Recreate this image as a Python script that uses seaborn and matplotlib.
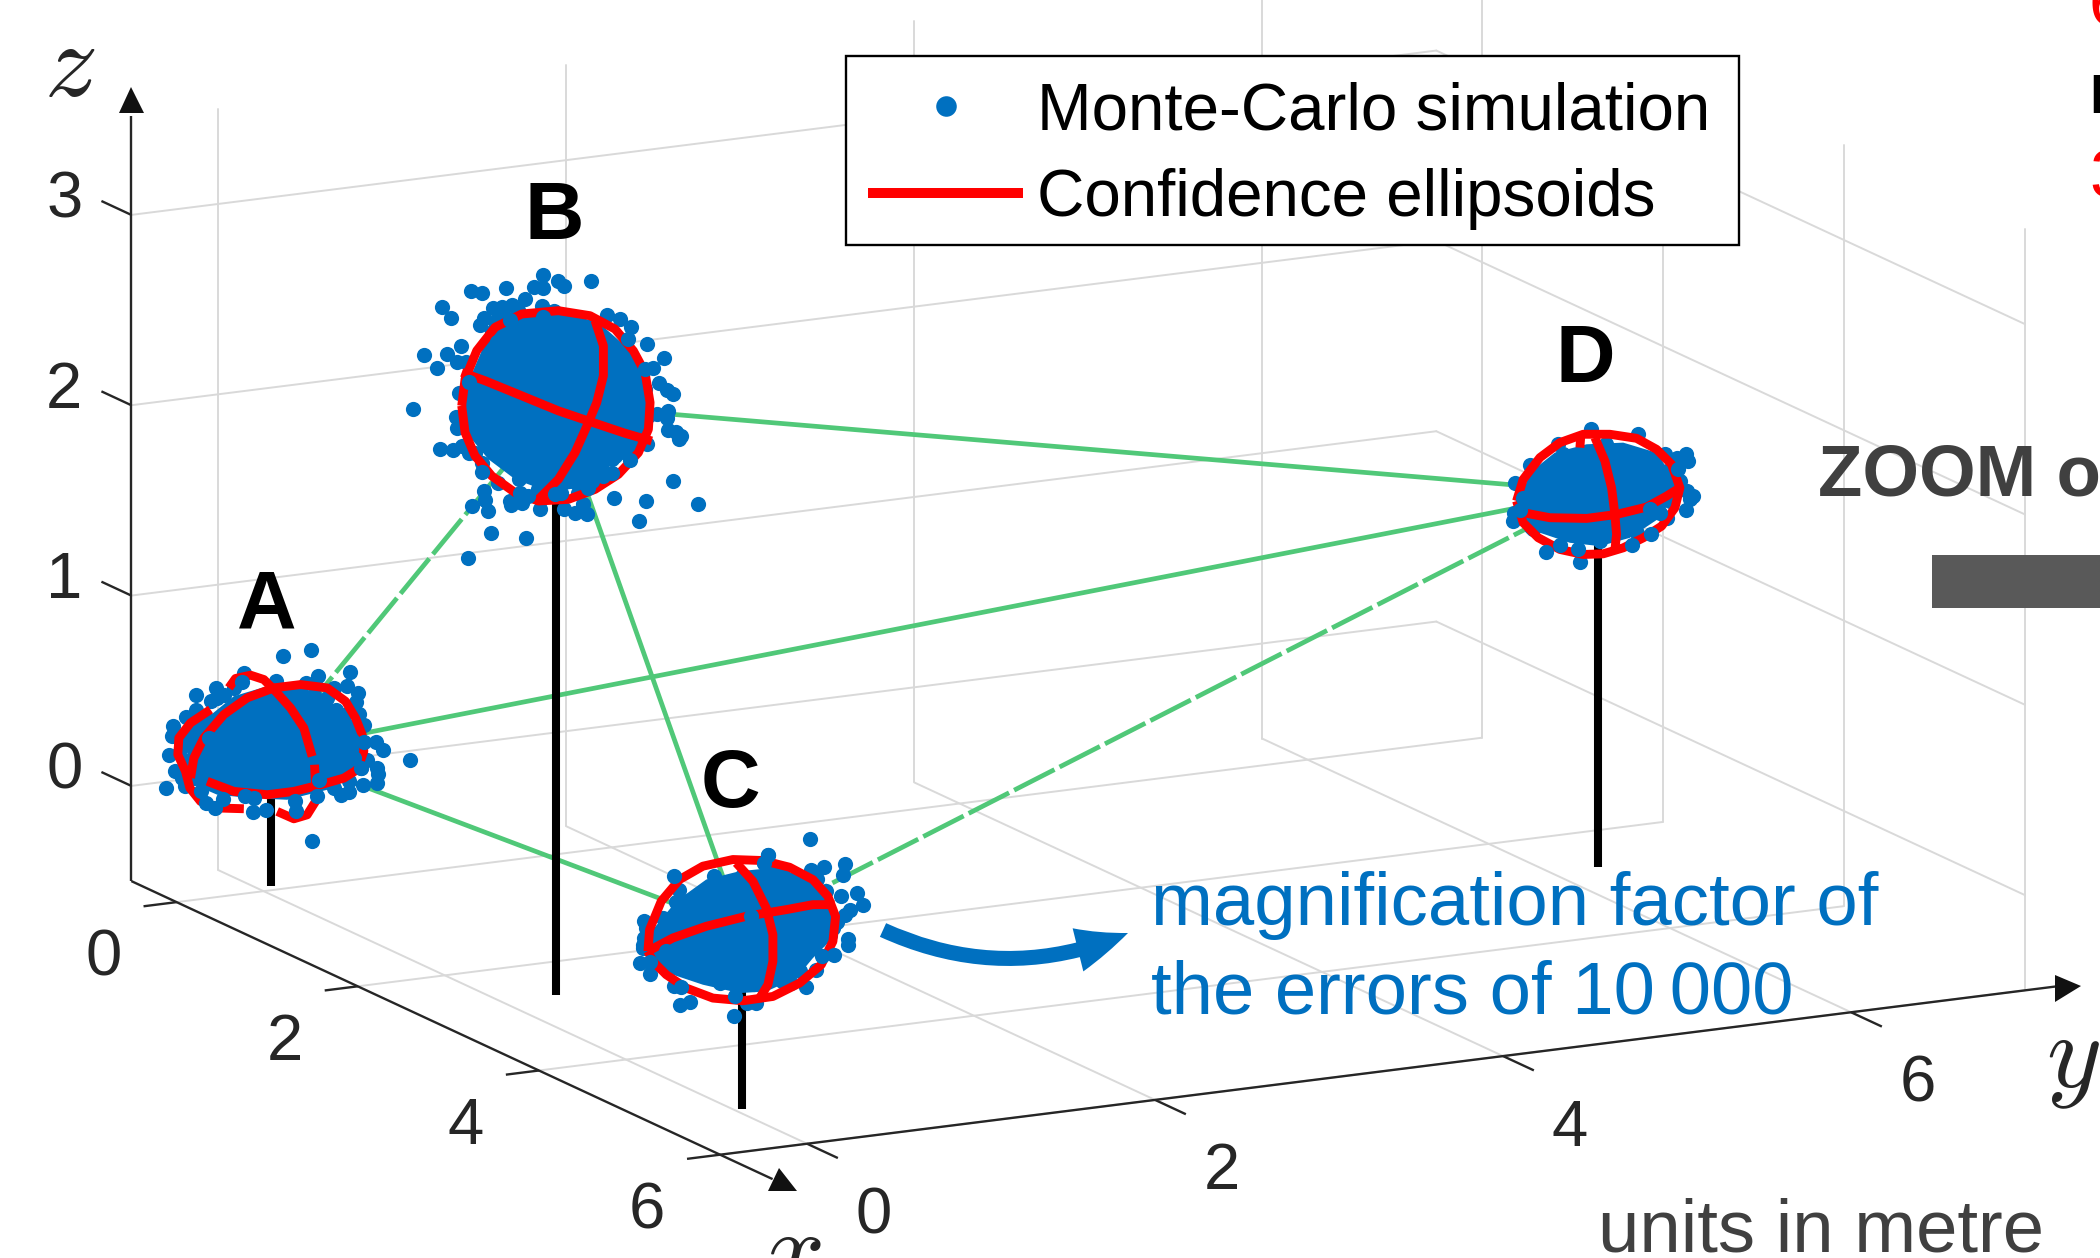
import matplotlib
matplotlib.use('Agg')
import numpy as np
import matplotlib.pyplot as plt
import seaborn as sns
from matplotlib.lines import Line2D
from matplotlib.patches import FancyArrowPatch, Polygon, Rectangle
from mpl_toolkits.mplot3d import proj3d
from mpl_toolkits.mplot3d.art3d import Poly3DCollection

# station positions in metres
names = ['A', 'B', 'C', 'D']
station_x = [-0.07, 2.62, 5.20, 2.69]
station_y = [0.08, 0.315, 0.04, 6.27]
station_z = [0.21, 2.60, 0.445, 1.47]

x_ticks = [0, 2, 4, 6]
y_ticks = [0, 2, 4, 6]
z_ticks = [0, 1, 2, 3]
x_lim = (-0.5, 6)
y_lim = (-0.5, 7)
z_lim = (-0.5, 3.5)

# pairs of stations joined by a green line
solid_links = [(0, 2), (0, 3), (1, 2), (1, 3)]
dashed_links = [(0, 1), (2, 3)]

# magnified errors, picked off the enlarged picture of each station
# (thirds of a pixel, with the station itself at *_centre)
a_centre = (512, 510)
a_dots = [(546,224),(632,206),(653,285),(747,273),(738,315),(773,336),(429,276),(285,340),(347,320),(330,360),
          (285,385),(257,407),(312,405),(216,435),(213,463),(204,520),(224,570),(245,590),(196,620),(253,615),
          (635,778),(787,610),(830,605),(832,578),(828,560),(800,535),(846,506),(826,483),(929,535),(790,432),
          (775,397),(765,362),(705,385),(525,300),(615,305),(700,320),(780,560),(745,600),(350,350),(260,480),(245,470),
          (300,430),(270,450),(240,500),(260,540),(280,590),(700,620),(770,540),(760,440),(730,400),(680,350),
          (640,340),(400,320),(370,340)]
a_top = [(300,630),(315,665),(342,680),(368,653),(432,645),(460,650),(458,692),(495,685),(585,688),(584,660),
         (655,595),(650,645),(720,640),(745,632),(325,470),(425,303),(790,482),(755,475),(760,530),(780,560)]
a_core = [(255,560),(265,480),(320,410),(400,345),(500,315),(610,320),(700,370),(760,420),(785,500),(765,570),
          (700,620),(640,635),(560,655),(450,650),(350,640),(280,610)]
a_curves = [
    [(270,590),(280,530),(310,470),(370,400),(440,350),(520,320),(600,310),(680,320),(735,360),(765,410),(785,460),
     (790,510),(770,565),(730,590),(660,610),(580,630),(500,640),(400,630),(320,600)],
    [(385,320),(405,292),(450,282),(490,295),(525,330)],
    [(525,330),(570,380),(610,440),(635,525)],
    [(642,550),(645,605)],
    [(330,385),(270,425),(235,470),(232,520),(255,570),(268,620),(300,660),(360,680),(430,682)],
    [(530,690),(580,712),(620,700),(645,660)],
]

b_centre = (522, 546)
b_dots = [(484,157),(528,177),(547,190),(628,177),(374,198),(457,193),(484,196),(269,205),(300,211),(431,231),
          (182,255),(207,288),(333,258),(361,255),(390,247),(408,262),(480,250),(517,265),(308,288),(294,307),
          (380,290),(345,300),(675,277),(714,291),(747,315),(797,366),(846,405),(237,370),(197,394),(128,397),
          (226,418),(254,420),(165,436),(832,481),(856,503),(875,513),(232,513),(94,560),(222,583),(226,618),
          (858,565),(855,585),(825,575),(858,622),(882,628),(899,640),(893,648),(797,665),(174,679),(215,683),
          (241,670),(262,690),(692,710),(875,775),(793,836),(949,845),(772,895),(696,826),(306,806),(310,832),
          (271,851),(320,864),(327,931),(433,947),(260,1006),(385,835),(387,848),(421,840),(476,858),(546,860),
          (581,870),(615,875),(603,845),(340,300),(360,290),(330,330),(760,430),(790,500),(800,580),(780,620),
          (660,720),(700,700),(280,690),(300,720),(350,780),(590,810),(470,800)]
b_top = [(300,748),(744,711),(412,770),(438,820),(415,812),(262,480),(483,283),(738,350),(790,440),(814,435),
         (520,815),(537,812),(618,797),(630,775),(690,752),(665,760),(575,775),(345,358),(385,292)]
b_core = [(245,590),(255,490),(300,385),(350,315),(430,280),(540,270),(650,300),(730,370),(790,450),(808,560),
          (795,640),(750,700),(680,730),(620,790),(560,800),(480,800),(400,770),(320,710),(270,650)]
b_curves = [
    [(240,550),(250,470),(285,385),(340,315),(420,275),(530,265),(625,280),(700,320),(755,385),(790,450),(805,540),
     (800,620),(770,690),(710,755),(640,800),(560,830),(470,835),(400,810),(330,760),(280,700),(250,630),(240,550)],
    [(240,450),(310,475),(420,520),(530,565),(625,597),(730,632),(810,655)],
    [(640,295),(665,370),(665,460),(645,540),(620,600),(580,690),(530,770),(470,830)],
]

c_centre = (426, 384)
c_dots = [(632,113),(505,162),(492,185),(427,224),(483,230),(515,212),(548,212),(635,205),(673,197),(737,187),
          (731,222),(652,232),(725,285),(771,275),(790,312),(750,325),(737,340),(712,362),(744,412),(745,430),
          (650,505),(600,510),(618,557),(575,545),(546,540),(463,548),(442,605),(468,605),(402,645),(272,602),
          (241,612),(223,555),(152,518),(120,485),(130,440),(133,410),(133,358),(238,265),(228,302),(294,280),(360,545),
          (170,480),(130,430),(140,380),(190,350),(680,270),(640,250),(700,380),(690,400),(620,440)]
c_top = [(405,585),(243,558),(668,465),(703,462),(455,345),(200,450),(343,225),(494,185),(505,162),(222,224),(152,483)]
c_core = [(150,470),(160,385),(230,300),(320,235),(420,210),(520,200),(620,225),(700,290),(720,360),(690,420),
          (640,470),(590,530),(500,570),(420,575),(310,550),(220,520)]
c_curves = [
    [(145,450),(150,385),(185,300),(240,235),(310,195),(400,175),(490,178),(570,198),(640,235),(685,285),(708,345),
     (700,420),(665,490),(600,545),(520,585),(430,598),(340,590),(260,560),(200,520),(160,480),(145,450)],
    [(145,450),(220,410),(320,375),(440,345),(560,325),(640,310),(705,310)],
    [(410,185),(460,240),(500,320),(520,400),(520,480),(505,550),(480,590)],
]

d_centre = (355, 273)
d_dots = [(333,83),(473,100),(235,130),(378,130),(150,192),(105,245),(592,170),(617,158),(625,180),(555,160),
          (600,240),(575,250),(620,270),(638,285),(630,295),(618,326),(103,335),(100,360),(153,378),(301,484),
          (470,395),(360,420),(250,160),(130,280),(160,210),(560,210),(570,300),(160,385),(560,350)]
d_top = [(512,400),(455,431),(295,443),(240,433),(198,452),(510,325),(540,335),(593,205),(120,328),(130,290)]
d_core = [(120,300),(150,215),(225,155),(320,130),(430,125),(530,155),(580,230),(575,290),(540,350),(450,410),
          (360,435),(270,425),(180,395),(125,345)]
d_curves = [
    [(110,300),(130,235),(180,170),(240,125),(310,100),(390,100),(470,112),(530,145),(575,190),(600,260),(585,320),
     (545,375),(490,410),(430,440),(370,458),(310,460),(240,445),(175,410),(130,365),(110,300)],
    [(130,335),(210,350),(320,352),(410,340),(500,318),(560,285),(600,260)],
    [(345,110),(375,180),(395,260),(405,340),(410,400),(405,445)],
    [(303,100),(300,140)],
]

centres = [a_centre, b_centre, c_centre, d_centre]
all_dots = [a_dots, b_dots, c_dots, d_dots]
all_top = [a_top, b_top, c_top, d_top]
all_core = [a_core, b_core, c_core, d_core]
all_curves = [a_curves, b_curves, c_curves, d_curves]

sns.set_theme(style='white', rc={'mathtext.fontset': 'cm'})
plt.rcParams['font.family'] = ['Liberation Sans', 'DejaVu Sans']
blue, red, green = sns.color_palette(['#0070C0', '#FF0000', '#50C878'])
grid_c = '#D9D9D9'
dark = '#262626'
UNIT_Y = 174.0

W, H = 2100, 1258
fig = plt.figure(figsize=(W / 200, H / 200), dpi=200, facecolor='white')
ax = fig.add_axes([-0.5, -1.17, 2, 3.34], projection='3d', proj_type='ortho', computed_zorder=False)
ax.view_init(elev=14, azim=-27.5)
ax.set_xlim(*x_lim)
ax.set_ylim(*y_lim)
ax.set_zlim(*z_lim)
ranges = (x_lim[1] - x_lim[0], y_lim[1] - y_lim[0], z_lim[1] - z_lim[0])
ax.set_box_aspect(ranges)
ax.set_axis_off()
ax.patch.set_visible(False)


def screen(x, y, z):
    xs, ys, _ = proj3d.proj_transform(x, y, z, ax.get_proj())
    return ax.transData.transform((xs, ys))


def fp(x, y):
    return (x / W, 1 - y / H)


# fit the orthographic view to the picture: UNIT_Y px per metre along y, origin at (263.6, 796)
ax.apply_aspect()
d = screen(0, 1, 0) - screen(0, 0, 0)
ax.set_box_aspect(ranges, zoom=UNIT_Y / d[0])
o = screen(0, 0, 0)
p = ax.get_position()
ax.set_position([p.x0 + (263.6 - o[0]) / W, p.y0 + (H - 796 - o[1]) / H, p.width, p.height])
ax.apply_aspect()


def to_model(i, pts):
    pts = np.array(pts, dtype=float)
    cx, cy = centres[i]
    dy = (pts[:, 0] - cx) / 3 / UNIT_Y
    dz = ((cy - pts[:, 1]) / 3 - 22 * dy) / 190.0
    return np.full(len(pts), station_x[i]), station_y[i] + dy, station_z[i] + dz


def line(xs, ys, zs, **kw):
    ax.plot(xs, ys, zs, **kw)


grid_kw = dict(color=grid_c, lw=0.7, zorder=1)
x0, x1 = x_lim
y0, y1 = y_lim
z0, z1 = z_lim
for t in z_ticks:
    line([x0, x0], [y0, y1], [t, t], **grid_kw)
    line([x0, x1], [y1, y1], [t, t], **grid_kw)
for t in y_ticks:
    line([x0, x0], [t, t], [z0, z1], **grid_kw)
    line([x0, x1], [t, t], [z0, z0], **grid_kw)
for t in x_ticks:
    line([t, t], [y1, y1], [z0, z1], **grid_kw)
    line([t, t], [y0, y1], [z0, z0], **grid_kw)

# axes lines and tick marks
axis_kw = dict(color=dark, lw=0.85, zorder=2, solid_capstyle='butt')
line([x0, 6.58], [y0, y0], [z0, z0], **axis_kw)
line([x1, x1], [y0, 7.2], [z0, z0], **axis_kw)
line([x0, x0], [y0, y0], [z0, 3.52], **axis_kw)
for t in x_ticks:
    line([t, t], [y0, y0 - 0.19], [z0, z0], **axis_kw)
    q = screen(t, y0, z0)
    fig.text(q[0] - 73, q[1] - 50 - 23.5, str(t), transform=None, fontsize=23.5, color=dark, ha='center', va='baseline')
for t in y_ticks:
    line([x1, x1 + 0.34], [t, t], [z0, z0], **axis_kw)
    q = screen(x1, t, z0)
    fig.text(q[0] + 67, q[1] - 66 - 23.5, str(t), transform=None, fontsize=23.5, color=dark, ha='center', va='baseline')
for t in z_ticks:
    line([x0, x0 - 0.33], [y0, y0], [t, t], **axis_kw)
    q = screen(x0, y0, t)
    fig.text(q[0] - 67, q[1] + 21 - 23.5, str(t), transform=None, fontsize=23.5, color=dark, ha='center', va='baseline')

for tri in ([(119, 113), (144, 113), (131, 87)],
            [(768, 1191), (797, 1191), (779, 1168)],
            [(2055, 975), (2081, 986), (2055, 1002)]):
    fig.add_artist(Polygon([fp(*v) for v in tri], closed=True, transform=fig.transFigure, color='#111111', lw=0))

# network lines
for i, j in solid_links:
    line([station_x[i], station_x[j]], [station_y[i], station_y[j]], [station_z[i], station_z[j]],
         color=green, lw=1.7, zorder=3, solid_capstyle='butt')
for i, j in dashed_links:
    line([station_x[i], station_x[j]], [station_y[i], station_y[j]], [station_z[i], station_z[j]],
         color=green, lw=1.7, zorder=3, linestyle=(0, (9.6, 1.2)), dash_capstyle='butt')

# stems down to the floor
for sx, sy, sz in zip(station_x, station_y, station_z):
    line([sx, sx], [sy, sy], [z0, sz], color='black', lw=2.9, zorder=4, solid_capstyle='butt')

# clouds and ellipsoids
for i in range(4):
    cx, cy, cz = to_model(i, all_core[i])
    poly = Poly3DCollection([list(zip(cx, cy, cz))], facecolors=blue, edgecolors='none', linewidths=0, zorder=5)
    ax.add_collection3d(poly)
    dx, dy, dz = to_model(i, all_dots[i])
    ax.scatter(dx, dy, dz, s=30, c=[blue], depthshade=False, linewidths=0, zorder=6)
    for curve in all_curves[i]:
        rx, ry, rz = to_model(i, curve)
        line(rx, ry, rz, color=red, lw=3.2, zorder=7, solid_capstyle='butt', solid_joinstyle='round')
    tx, ty, tz = to_model(i, all_top[i])
    ax.scatter(tx, ty, tz, s=30, c=[blue], depthshade=False, linewidths=0, zorder=8)

# legend box drawn at its place in the picture, entries on top of it
fig.add_artist(Rectangle(fp(846, 245), 893 / W, 189 / H, transform=fig.transFigure,
                         facecolor='white', edgecolor='black', lw=0.85, zorder=4))
handles = [Line2D([], [], linestyle='none', marker='o', markersize=7.4, markerfacecolor=blue, markeredgewidth=0),
           Line2D([], [], color=red, lw=3.6, solid_capstyle='butt')]
fig.legend(handles, ['Monte-Carlo simulation', 'Confidence ellipsoids'], loc='upper left',
           bbox_to_anchor=fp(846, 59), bbox_transform=fig.transFigure, borderaxespad=0, frameon=False,
           fontsize=23.6, labelcolor='black', handlelength=2.36, handletextpad=0.22, borderpad=0.34,
           labelspacing=0.37)

for name, (tx, ty) in zip(names, [(267, 627), (554, 239), (730, 807), (1585, 382)]):
    fig.text(*fp(tx, ty), name, fontsize=29.7, fontweight='bold', color='black', ha='center', va='baseline')

fig.text(*fp(1151, 925), 'magnification factor of', fontsize=26.8, color=blue, va='baseline')
fig.text(*fp(1151, 1013), 'the errors of 10\u2009000', fontsize=26.8, color=blue, va='baseline')
fig.text(*fp(1598, 1251), 'units in metre', fontsize=26.8, color='#404040', va='baseline')
fig.text(*fp(1818, 496), 'ZOOM o', fontsize=26.2, fontweight='bold', color='#404040', va='baseline')
fig.add_artist(Rectangle(fp(1932, 608), (W - 1932) / W, 53 / H, transform=fig.transFigure, color='#595959', lw=0))

# text cut off by the right edge of the crop
fig.text(*fp(2089, 25), '6', fontsize=25, color=red, va='baseline')
fig.text(*fp(2089, 113), 'E', fontsize=20, fontweight='bold', color='black', va='baseline')
fig.text(*fp(2089, 197), '3', fontsize=25, color=red, va='baseline')

# axis letters
fig.text(*fp(70, 96), '$z$', fontsize=38, color=dark, ha='center', va='baseline')
fig.text(*fp(2073, 1087), '$y$', fontsize=38, color=dark, ha='center', va='baseline')
fig.text(*fp(793, 1284), '$x$', fontsize=38, color=dark, ha='center', va='baseline')

fig.add_artist(FancyArrowPatch(fp(883, 930), fp(1128, 933), transform=fig.transFigure,
                               connectionstyle='arc3,rad=0.22', mutation_scale=1, color=blue, lw=0,
                               arrowstyle='simple,head_length=19,head_width=16,tail_width=5.4',
                               shrinkA=0, shrinkB=0))

fig.savefig('out.png', dpi=200, facecolor='white')
